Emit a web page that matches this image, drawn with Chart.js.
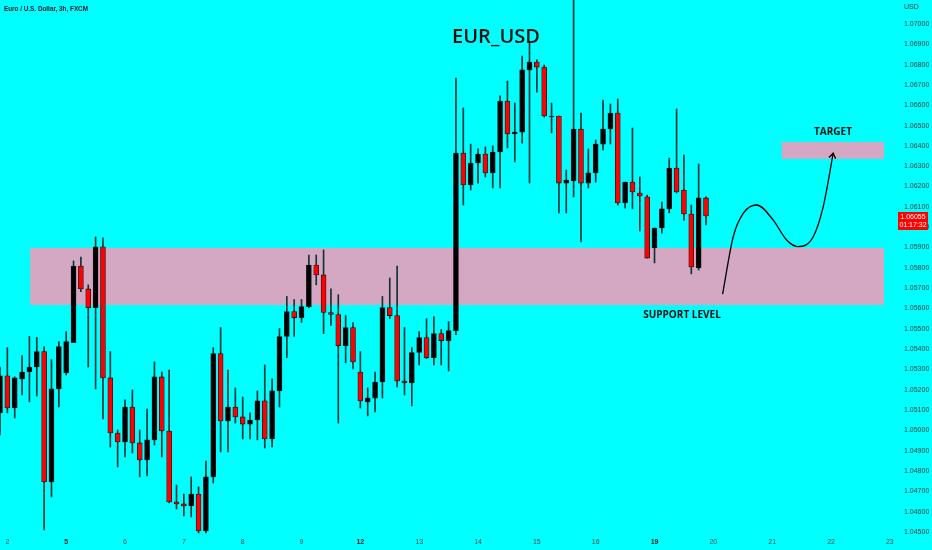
<!DOCTYPE html>
<html>
<head>
<meta charset="utf-8">
<title>EUR_USD 3h</title>
<script src="https://cdn.jsdelivr.net/npm/chart.js@4/dist/chart.umd.min.js"></script>
<style>
  html, body { margin: 0; padding: 0; background: #00ffff; }
  #wrap { position: relative; width: 932px; height: 550px; }
</style>
</head>
<body>
<div id="wrap"><canvas id="chart" width="932" height="550"></canvas></div>
<script>
// euro / dollar, 3h candles. index 0 is the first (half hidden) candle on the left

const opens = [
  1.05086, 1.05268, 1.05110, 1.05253, 1.05287, 1.05312, 1.05388, 1.04746, 1.05204, 1.05283,
  1.05432, 1.05809, 1.05696, 1.05604, 1.05903, 1.05258, 1.04987, 1.04943, 1.05115, 1.04938,
  1.04854, 1.04953, 1.05263, 1.04997, 1.04648, 1.04638, 1.04628, 1.04687, 1.04505, 1.04771,
  1.05378, 1.05046, 1.05115, 1.05066, 1.05031, 1.05051, 1.05145, 1.04958, 1.05194, 1.05462,
  1.05585, 1.05555, 1.05609, 1.05814, 1.05765, 1.05580, 1.05570, 1.05417, 1.05506, 1.05287,
  1.05140, 1.05159, 1.05238, 1.05604, 1.05565, 1.05243, 1.05233, 1.05383, 1.05457, 1.05358,
  1.05476, 1.05442, 1.05491, 1.06365, 1.06208, 1.06316, 1.06360, 1.06267, 1.06370, 1.06621,
  1.06459, 1.06468, 1.06774, 1.06813, 1.06788, 1.06542, 1.06547, 1.06217, 1.06227, 1.06483,
  1.06217, 1.06267, 1.06409, 1.06483, 1.06562, 1.06119, 1.06222, 1.06168, 1.06149, 1.05898,
  1.05996, 1.06090, 1.06291, 1.06183, 1.06065, 1.05799, 1.06144
];
const highs = [
  1.05312, 1.05407, 1.05263, 1.05368, 1.05462, 1.05457, 1.05412, 1.05348, 1.05437, 1.05486,
  1.05834, 1.05853, 1.05716, 1.05952, 1.05947, 1.05388, 1.05002, 1.05150, 1.05199, 1.05002,
  1.05105, 1.05337, 1.05287, 1.05297, 1.04731, 1.04687, 1.04771, 1.04722, 1.04849, 1.05407,
  1.05506, 1.05297, 1.05209, 1.05164, 1.05086, 1.05194, 1.05322, 1.05253, 1.05501, 1.05659,
  1.05644, 1.05644, 1.05863, 1.05863, 1.05888, 1.05696, 1.05668, 1.05565, 1.05531, 1.05388,
  1.05209, 1.05287, 1.05659, 1.05750, 1.05809, 1.05506, 1.05407, 1.05486, 1.05550, 1.05560,
  1.05496, 1.05535, 1.06734, 1.06587, 1.06409, 1.06385, 1.06395, 1.06400, 1.06646, 1.06719,
  1.06611, 1.06842, 1.06906, 1.06823, 1.06798, 1.06611, 1.06547, 1.06281, 1.07170, 1.06562,
  1.06385, 1.06429, 1.06626, 1.06606, 1.06631, 1.06222, 1.06488, 1.06247, 1.06158, 1.05996,
  1.06124, 1.06340, 1.06582, 1.06355, 1.06109, 1.06311, 1.06149
];
const lows = [
  1.04977, 1.05086, 1.05061, 1.05174, 1.05140, 1.05169, 1.04510, 1.04672, 1.05115, 1.05273,
  1.05432, 1.05683, 1.05312, 1.05204, 1.05056, 1.04918, 1.04820, 1.04869, 1.04889, 1.04771,
  1.04776, 1.04928, 1.04869, 1.04643, 1.04613, 1.04579, 1.04574, 1.04495, 1.04495, 1.04741,
  1.04894, 1.04894, 1.05036, 1.04958, 1.04958, 1.04953, 1.04913, 1.04918, 1.05115, 1.05358,
  1.05462, 1.05531, 1.05604, 1.05716, 1.05476, 1.05516, 1.05036, 1.05332, 1.05302, 1.05110,
  1.05071, 1.05091, 1.05159, 1.05550, 1.05214, 1.05174, 1.05120, 1.05322, 1.05353, 1.05322,
  1.05322, 1.05292, 1.05471, 1.06109, 1.06183, 1.06217, 1.06247, 1.06193, 1.06193, 1.06390,
  1.06321, 1.06414, 1.06217, 1.06665, 1.06542, 1.06464, 1.06070, 1.06070, 1.06149, 1.05927,
  1.06193, 1.06222, 1.06380, 1.06409, 1.06109, 1.06094, 1.06090, 1.05981, 1.05848, 1.05824,
  1.05971, 1.06070, 1.06168, 1.06035, 1.05770, 1.05789, 1.06011
];
const closes = [
  1.05268, 1.05110, 1.05258, 1.05287, 1.05312, 1.05388, 1.04746, 1.05204, 1.05412, 1.05437,
  1.05809, 1.05696, 1.05604, 1.05903, 1.05258, 1.04987, 1.04943, 1.05115, 1.04938, 1.04854,
  1.04953, 1.05263, 1.04997, 1.04648, 1.04638, 1.04628, 1.04687, 1.04505, 1.04771, 1.05378,
  1.05046, 1.05115, 1.05066, 1.05031, 1.05051, 1.05145, 1.04958, 1.05194, 1.05462, 1.05585,
  1.05555, 1.05609, 1.05814, 1.05765, 1.05580, 1.05570, 1.05417, 1.05506, 1.05337, 1.05145,
  1.05159, 1.05238, 1.05604, 1.05565, 1.05243, 1.05233, 1.05383, 1.05457, 1.05358, 1.05476,
  1.05442, 1.05491, 1.06365, 1.06208, 1.06316, 1.06360, 1.06267, 1.06370, 1.06621, 1.06459,
  1.06468, 1.06774, 1.06813, 1.06788, 1.06547, 1.06547, 1.06217, 1.06232, 1.06483, 1.06217,
  1.06267, 1.06409, 1.06483, 1.06562, 1.06119, 1.06222, 1.06173, 1.06154, 1.05848, 1.05996,
  1.06090, 1.06291, 1.06173, 1.06065, 1.05804, 1.06144, 1.06055
];

// day labels, one on the first candle of every trading day (8 candles a day)
const day_labels = ["2", "5", "6", "7", "8", "9", "12", "13", "14", "15", "16", "19", "20", "21", "22", "23"];
const bold_days = ["5", "12", "19"];
const first_day_index = 1;
const candles_per_day = 8;

// price axis
const price_ticks = [
  1.045, 1.046, 1.047, 1.048, 1.049, 1.050, 1.051, 1.052, 1.053, 1.054, 1.055, 1.056, 1.057,
  1.058, 1.059, 1.060, 1.061, 1.062, 1.063, 1.064, 1.065, 1.066, 1.067, 1.068, 1.069, 1.070
];
const price_min = 1.04485;
const price_max = 1.07118;

// drawn zones: [from index, to index, low price, high price]
const support_zone = [4.1, 120.2, 1.05617, 1.05898];
const target_zone = [106.3, 120.2, 1.06336, 1.06419];

// the hand drawn projection, index and price of each point along it
const path_index = [98.26, 99.70, 101.06, 102.88, 105.14, 106.96, 108.54, 110.58, 111.94, 113.30];
const path_price = [1.05671, 1.05953, 1.06068, 1.06109, 1.06035, 1.05937, 1.05904, 1.05953, 1.06101, 1.06364];

const countdown = "01:17:32";

const chart_canvas = document.getElementById("chart");
const font_axis = "'Liberation Sans', Arial, sans-serif";
const font_note = "'Open Sans', 'Liberation Sans', sans-serif";

// build the candle datasets: wicks are thin floating bars, bodies are wider ones
function gen_datasets() {
  let wicks = [];
  let bodies = [];
  let body_colors = [];
  for (let i = 0; i < opens.length; i++) {
    wicks.push({ x: i, y: [lows[i], highs[i]] });
    bodies.push({ x: i, y: [opens[i], closes[i]] });
    body_colors.push(closes[i] >= opens[i] ? "#000000" : "#ff0000");
  }
  let path = [];
  for (let k = 0; k < path_index.length; k++) {
    path.push({ x: path_index[k], y: path_price[k] });
  }
  return [
    {
      type: "line",
      data: path,
      borderColor: "#000000",
      borderWidth: 1.3,
      pointRadius: 0,
      cubicInterpolationMode: "monotone",
      order: 0
    },
    {
      data: bodies,
      backgroundColor: body_colors,
      borderColor: "#1a1a1a",
      borderWidth: 0.8,
      borderSkipped: false,
      barThickness: 5,
      grouped: false,
      order: 1
    },
    {
      data: wicks,
      backgroundColor: "#0f3434",
      borderWidth: 0,
      barThickness: 1,
      grouped: false,
      order: 2
    }
  ];
}

// pink boxes behind the candles
const zones_plugin = {
  id: "zones",
  beforeDatasetsDraw(chart) {
    const c = chart.ctx;
    const xs = chart.scales.x;
    const ys = chart.scales.y;
    c.save();
    c.fillStyle = "#d4a8c2";
    for (const z of [support_zone, target_zone]) {
      const x0 = xs.getPixelForValue(z[0]);
      const x1 = xs.getPixelForValue(z[1]);
      const y0 = ys.getPixelForValue(z[3]);
      const y1 = ys.getPixelForValue(z[2]);
      c.fillRect(x0, y0, x1 - x0, y1 - y0);
    }
    c.restore();
  }
};

// texts, arrow head and the last price box
const notes_plugin = {
  id: "notes",
  afterDatasetsDraw(chart) {
    const c = chart.ctx;
    const area = chart.chartArea;
    c.save();

    // arrow head on the end of the projection
    const pts = chart.getDatasetMeta(0).data;
    const a = pts[pts.length - 2];
    const b = pts[pts.length - 1];
    const ang = Math.atan2(b.y - a.y, b.x - a.x);
    c.strokeStyle = "#000000";
    c.lineWidth = 1.3;
    c.beginPath();
    c.moveTo(b.x - 6 * Math.cos(ang - 0.6), b.y - 6 * Math.sin(ang - 0.6));
    c.lineTo(b.x, b.y);
    c.lineTo(b.x - 6 * Math.cos(ang + 0.6), b.y - 6 * Math.sin(ang + 0.6));
    c.stroke();

    // labels on the chart
    c.fillStyle = "#111111";
    c.textAlign = "center";
    c.textBaseline = "middle";
    c.font = "600 20px " + font_note;
    c.fillText("EUR_USD", 496, 37);
    c.font = "bold 10px " + font_note;
    c.fillText("TARGET", 833, 132);
    c.fillText("SUPPORT LEVEL", 682, 315);

    // symbol line, top left (squeezed a bit, the original font is narrow)
    c.textAlign = "left";
    c.fillStyle = "#131722";
    c.font = "bold 8px " + font_axis;
    c.fillText("Euro / U.S. Dollar, 3h, FXCM", 4, 9, 84);

    // currency on top of the price axis
    c.fillStyle = "#333333";
    c.font = "7px " + font_axis;
    c.fillText("USD", area.right + 9, 7);

    // last price box
    const last = closes[closes.length - 1];
    const ly = chart.scales.y.getPixelForValue(last);
    c.fillStyle = "#ff0000";
    c.fillRect(area.right + 3, ly - 4, 30, 18);
    c.fillStyle = "#ffffff";
    c.textAlign = "center";
    const mid = area.right + 18;
    c.fillText(last.toFixed(5), mid, ly + 1.5);
    c.fillText(countdown, mid, ly + 9.5);
    c.restore();
  }
};

function init_chart() {
  const config = {
    type: "bar",
    data: { datasets: gen_datasets() },
    options: {
      responsive: false,
      animation: false,
      layout: { padding: 0, autoPadding: false },
      plugins: {
        legend: { display: false },
        tooltip: { enabled: false }
      },
      scales: {
        x: {
          type: "linear",
          min: 0,
          max: 121.7,
          offset: false,
          grid: { display: false, drawTicks: false },
          border: { display: false },
          afterBuildTicks: (axis) => {
            axis.ticks = day_labels.map((l, k) => ({ value: first_day_index + k * candles_per_day }));
          },
          afterFit: (axis) => {
            axis.height = 15;
            axis.paddingLeft = 0;
            axis.paddingRight = 0;
          },
          ticks: {
            autoSkip: false,
            maxRotation: 0,
            padding: 3,
            color: (ctx) => bold_days.includes(day_labels[ctx.index]) ? "#131722" : "#4a4a4a",
            font: (ctx) => ({
              family: font_axis,
              size: 7,
              weight: bold_days.includes(day_labels[ctx.index]) ? "bold" : "normal"
            }),
            callback: (v, k) => day_labels[k]
          }
        },
        y: {
          type: "linear",
          position: "right",
          min: price_min,
          max: price_max,
          beginAtZero: false,
          grid: { display: false, drawTicks: false },
          border: { display: false },
          afterBuildTicks: (axis) => {
            axis.ticks = price_ticks.map((v) => ({ value: v }));
          },
          // fixed width, and no label padding above or below the plot
          afterFit: (axis) => {
            axis.width = 37;
            axis.paddingTop = 0;
            axis.paddingBottom = 0;
          },
          ticks: {
            padding: 9,
            color: "#3a3a3a",
            font: { family: font_axis, size: 7 },
            callback: (v) => Number(v).toFixed(5)
          }
        }
      }
    },
    plugins: [zones_plugin, notes_plugin]
  };
  return new Chart(chart_canvas.getContext("2d"), config);
}

init_chart();
</script>
</body>
</html>
